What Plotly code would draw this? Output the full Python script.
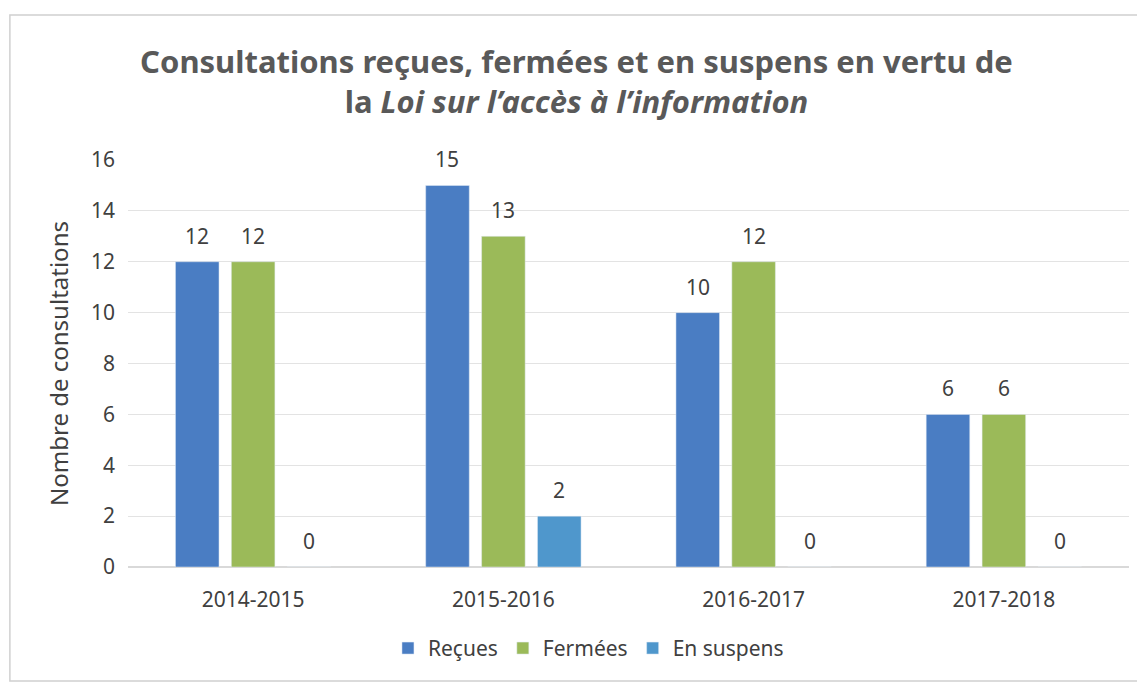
import plotly.graph_objects as go

categories = ["2014-2015", "2015-2016", "2016-2017", "2017-2018"]
recues = [12, 15, 10, 6]
fermees = [12, 13, 12, 6]
en_suspens = [0, 2, 0, 0]
y_ticks = [0, 2, 4, 6, 8, 10, 12, 14, 16]

FONT = "Noto Sans"
TXT = "#404040"
series = [
    ("Reçues", recues, "#4A7DC3"),
    ("Fermées", fermees, "#9BBA59"),
    ("En suspens", en_suspens, "#4F97CC"),
]

fig = go.Figure()
slot_px = 56
for i, (name, vals, col) in enumerate(series):
    fig.add_trace(go.Bar(
        name=name, x=categories, y=vals, marker_color=col,
    ))
    for c, v in zip(categories, vals):
        fig.add_annotation(
            x=c, y=v, text=str(v), showarrow=False,
            xshift=(i - 1) * slot_px, yshift=26, yanchor="middle",
            font=dict(family=FONT, size=21, color=TXT),
        )

fig.update_layout(
    width=1137, height=675,
    paper_bgcolor="white", plot_bgcolor="white",
    margin=dict(l=120, r=16, t=152, b=116),
    barmode="group", bargap=0.33, bargroupgap=0.22,
    title=dict(
        text="<b>Consultations reçues, fermées et en suspens en vertu de<br>la <i>Loi sur l’accès à l’information</i></b>",
        x=0.5, xanchor="center", y=0.904, yanchor="top",
        font=dict(family=FONT, size=31, color="#595959"),
    ),
    font=dict(family=FONT, color=TXT),
    legend=dict(orientation="h", x=0.46, xanchor="center", y=-0.2, yanchor="middle",
                font=dict(family=FONT, size=21, color=TXT), traceorder="normal",
                itemwidth=30),
)
fig.update_yaxes(
    range=[0, 16], tickvals=y_ticks, showgrid=True, gridcolor="#E3E3E3", gridwidth=1,
    zeroline=True, zerolinecolor="#D9D9D9", tickfont=dict(size=21, color=TXT),
    title=dict(text="Nombre de consultations", font=dict(size=24, color=TXT), standoff=15),
    ticks="", showline=False, ticklabelstandoff=12,
)
fig.update_xaxes(
    tickfont=dict(size=21, color=TXT), showline=True, linecolor="#D9D9D9", ticks="",
    ticklabelstandoff=14,
)
fig.add_shape(type="rect", xref="paper", yref="paper",
              x0=-0.118, x1=1.016, y0=-0.28, y1=1.356,
              line=dict(color="#D0D0D0", width=1.5), fillcolor="rgba(0,0,0,0)")

fig.write_html("out.html")
